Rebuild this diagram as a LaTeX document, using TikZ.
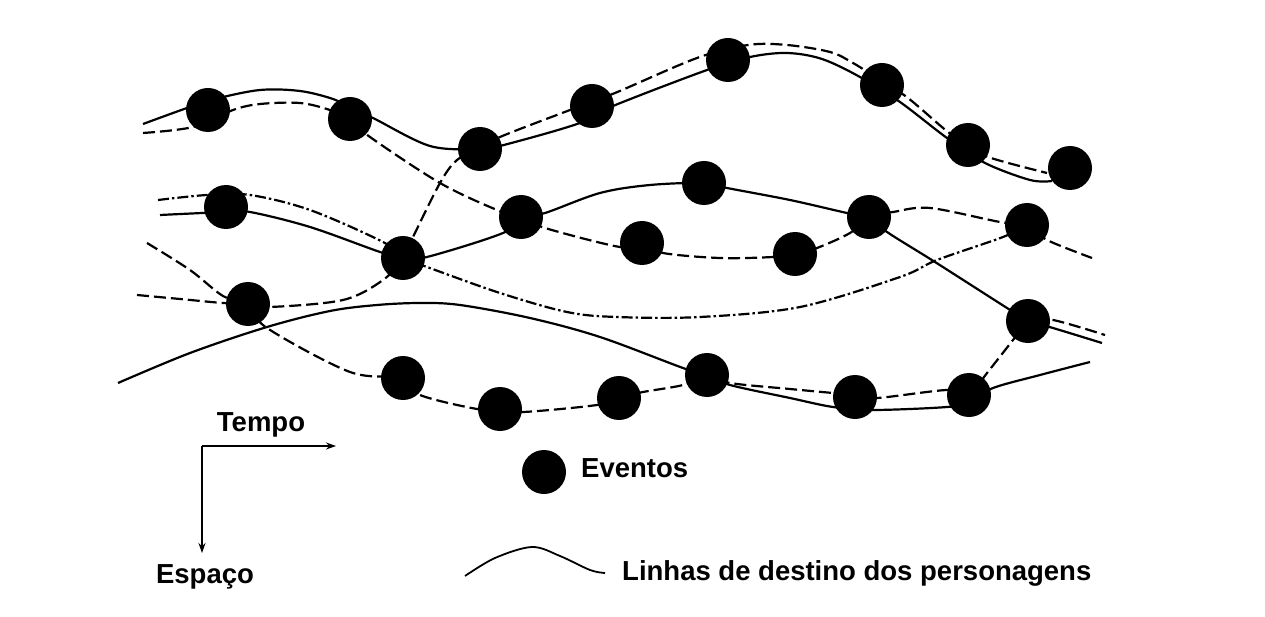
\documentclass[tikz,border=0pt]{standalone}
\usepackage{fontspec}
\setmainfont{Liberation Sans}
\usetikzlibrary{arrows.meta}
\begin{document}
\begin{tikzpicture}[x=1pt,y=-1pt,
  ev/.style={circle,fill=black,minimum size=44pt,inner sep=0pt},
  fate/.style={line width=2.2pt,line join=round},
  fdash/.style={fate,dash pattern=on 12pt off 5pt},
  fdot/.style={fate,dash pattern=on 11pt off 3pt on 2.5pt off 3pt},
  axis/.style={line width=1.6pt,-{Stealth[length=10pt,width=7pt]}},
  lbl/.style={font=\bfseries\fontsize{27.5}{30}\selectfont,inner sep=0pt},
  sm/.style={smooth,tension=0.55}]
\useasboundingbox (0,0) rectangle (1265,617);
% events
\node[ev] (e1) at (208,110) {};
\node[ev] (e2) at (350,119) {};
\node[ev] (e3) at (480,149) {};
\node[ev] (e4) at (592,106) {};
\node[ev] (e5) at (728,60) {};
\node[ev] (e6) at (882,85) {};
\node[ev] (e7) at (968,145) {};
\node[ev] (e8) at (1070,168) {};
\node[ev] (e9) at (226,207) {};
\node[ev] (e10) at (403,258) {};
\node[ev] (e11) at (521,217) {};
\node[ev] (e12) at (704,183) {};
\node[ev] (e13) at (642,243) {};
\node[ev] (e14) at (795,254) {};
\node[ev] (e15) at (869,217) {};
\node[ev] (e16) at (1027,225) {};
\node[ev] (e17) at (248,304) {};
\node[ev] (e18) at (1028,321) {};
\node[ev] (e19) at (403,378) {};
\node[ev] (e20) at (500,409) {};
\node[ev] (e21) at (619,398) {};
\node[ev] (e22) at (707,375) {};
\node[ev] (e23) at (855,397) {};
\node[ev] (e24) at (969,395) {};
% fate lines
% A solid top
\draw[fate] plot[sm] coordinates {(143,124) (187,108) (215,99) (260,90) (300,91) (333,99) ([yshift=11pt]e2.center) (373,118) (430,146) (e3.center) (500,146) (577,124) (613,106) (707,70) (750,57) (787,53) (822,59) (860,77) (900,102) (947,138) (985,163) (1030,180) (1052,181)};
% B dashed
\draw[fdash] plot[sm] coordinates {(143,133) (193,127) (233,110) (260,104) (300,103) (330,110) (e2.center) (370,137) (440,183) (497,210) (e11.center) (545,228) (620,247) (e13.center) (663,253) (720,258) (773,257) (e14.center) (817,248) (850,233) (e15.center) (893,212) (930,208) (1000,222) (e16.center) (1047,240) (1092,258)};
% C dashed
\draw[fdash] plot[sm] coordinates {(137,295) (180,299) (223,303) (e17.center) (270,307) (343,300) (383,280) (e10.center) (413,237) (440,183) (457,160) (e3.center) (500,137) (570,110) (615,93) (697,58) (748,45) (787,45) (830,52) (853,63) (880,80) (908,98) (948,132) (968,144) (988,157) (1047,173)};
% D dash-dot
\draw[fdot] plot[sm] coordinates {(158,200) (207,195) (250,195) (310,210) (383,242) (e10.center) (427,267) (500,293) (567,312) (617,317) (700,317) (800,307) (900,277) (937,260) (1003,237) (e16.center)};
% E solid
\draw[fate] plot[sm] coordinates {(160,215) ([yshift=-5pt]e9.center) (250,212) (310,227) (380,252) (e10.center) (427,257) (503,233) (e11.center) (545,213) (600,193) (650,185) (e12.center) (727,188) (790,200) (847,213) (e15.center) (887,232) (935,262) (1007,308) (e18.center) (1053,328) (1102,343)};
% G dashed
\draw[fdash] plot[sm] coordinates {(147,243) (190,270) (223,296) (e17.center) (267,328) (350,372) (e19.center) (420,395) (477,409) (e20.center) (523,412) (597,405) (e21.center) (643,392) (683,385) (e22.center) (730,383) (790,389) (833,393) ([yshift=2pt]e23.center) (877,398) (947,390) (e24.center) (987,373) (1013,340) (e18.center) (1053,320) (1105,335)};
% H solid
\draw[fate] plot[sm] coordinates {(118,383) (190,353) (267,327) (330,311) (377,305) (420,303) (460,305) (530,318) (600,337) (683,368) (e22.center) (730,385) (790,398) (833,407) (873,410) (947,407) ([yshift=-7pt]e24.center) (993,388) (1040,375) (1090,362)};
% axes
\coordinate (o) at (202,446);
\coordinate (tx) at (336,446);
\coordinate (sy) at (202,553);
\draw[axis] (o) -- (tx);
\draw[axis] (o) -- (sy);
\node[lbl,anchor=base] (tempo) at (261,431) {Tempo};
\node[lbl,anchor=base] (espaco) at (205,583) {Espaço};
% legend
\node[ev] (lev) at (544,472) {};
\node[lbl,anchor=base west] (eventos) at (581,477) {Eventos};
\coordinate (la) at (465,576);
\coordinate (lb) at (605,573);
\draw[line width=1.8pt] plot[sm] coordinates {(la) (495,558) (532,547) (560,556) (590,570) (lb)};
\node[lbl,anchor=base west] (linhas) at (622,580) {Linhas de destino dos personagens};
\end{tikzpicture}
\end{document}
